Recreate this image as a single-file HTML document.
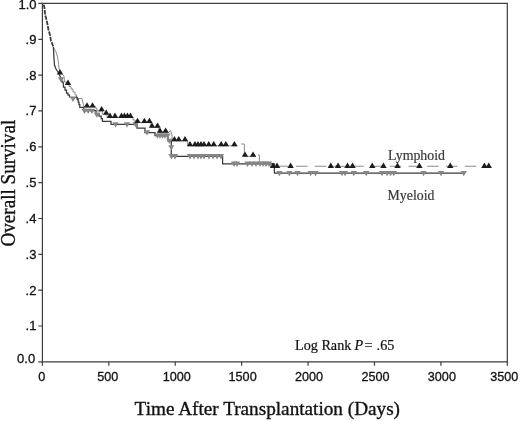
<!DOCTYPE html><html><head><meta charset="utf-8"><style>html,body{margin:0;padding:0;background:#fff;}svg{display:block;will-change:transform;}text{font-family:"Liberation Sans",sans-serif;}.t{stroke:#111;stroke-width:0.3px;}.s{font-family:"Liberation Serif",serif;}.b{stroke:#111;stroke-width:0.35px;}.c{stroke:#111;stroke-width:0.2px;}</style></head><body>
<svg width="520" height="421" viewBox="0 0 520 421">
<rect width="520" height="421" fill="#fff"/>
<polyline fill="none" stroke="#8c8c8c" stroke-width="1.0"  points="53.40,47.00 56.00,52.00 57.50,57.00 58.50,63.00 59.00,68.00 60.00,71.00 62.00,74.00 64.00,76.00 64.50,82.00 66.50,82.00 66.50,84.00 69.00,84.00 69.00,86.50 71.00,86.50 71.00,89.00 73.00,89.00 73.00,92.00 75.00,92.00 75.00,95.00 76.60,95.00 76.60,98.50 82.00,98.50 83.00,103.00 84.00,106.80 95.80,106.80 95.80,108.50 97.00,108.50 97.00,111.00 102.40,111.00 102.40,114.30 107.00,114.30 107.00,117.40 133.00,117.40 133.00,120.00 135.00,120.00 135.00,122.60 151.00,122.60 151.00,127.30 159.00,127.30 159.00,132.30 169.00,132.30 170.60,130.50 172.00,135.00 172.00,140.80 187.40,140.80 188.00,145.80 237.50,145.80"/>
<polyline fill="none" stroke="#8c8c8c" stroke-width="1.0"  points="241.00,144.00 244.40,144.00 244.40,156.30 256.00,156.30"/>
<polyline fill="none" stroke="#8c8c8c" stroke-width="1.0"  points="258.00,155.00 259.40,155.00 259.40,162.80 270.00,162.80 270.00,166.20 288.00,166.20"/>
<path fill="none" stroke="#8c8c8c" stroke-width="1.1" stroke-dasharray="11.5 7.25" d="M296 166.2H489"/>
<polyline fill="none" stroke="#3a3a3a" stroke-width="1.25"  points="53.40,47.00 53.80,56.00 54.50,65.00 56.00,69.00 58.00,72.00 60.00,76.00 62.00,80.00 62.00,82.00 63.20,82.00 63.50,87.00 65.00,87.00 65.00,90.00 66.50,90.00 66.50,93.00 68.00,93.00 68.00,95.00 69.50,95.00 69.50,97.00 77.30,97.30 77.30,99.50 78.20,99.50 78.20,102.00 79.00,102.00 79.00,104.50 79.80,104.50 79.80,107.40 83.60,107.40 83.60,110.70 96.00,110.70 96.00,113.50 99.00,113.50 99.00,116.00 101.20,116.00 101.20,118.50 102.40,118.50 102.40,121.40 111.00,121.40 111.00,124.40 137.00,124.40 137.00,128.00 145.00,128.00 145.00,132.50 155.00,132.50 155.00,135.60 168.00,135.60 168.00,141.00 171.30,141.00 171.30,156.30 222.60,156.30 222.60,163.80 274.40,163.80 274.40,173.10 463.75,173.10"/>
<path fill="#868686" d="M57.90 77.30L64.10 77.30L61.00 82.60Z"/>
<path fill="#868686" d="M69.90 96.80L76.10 96.80L73.00 102.10Z"/>
<path fill="#868686" d="M81.40 108.70L87.60 108.70L84.50 114.00Z"/>
<path fill="#868686" d="M85.10 108.70L91.30 108.70L88.20 114.00Z"/>
<path fill="#868686" d="M88.90 108.70L95.10 108.70L92.00 114.00Z"/>
<path fill="#868686" d="M93.70 112.40L99.90 112.40L96.80 117.70Z"/>
<path fill="#868686" d="M112.50 122.20L118.70 122.20L115.60 127.50Z"/>
<path fill="#868686" d="M123.90 122.20L130.10 122.20L127.00 127.50Z"/>
<path fill="#868686" d="M132.50 122.20L138.70 122.20L135.60 127.50Z"/>
<path fill="#868686" d="M143.90 130.30L150.10 130.30L147.00 135.60Z"/>
<path fill="#868686" d="M154.40 133.40L160.60 133.40L157.50 138.70Z"/>
<path fill="#868686" d="M156.90 133.40L163.10 133.40L160.00 138.70Z"/>
<path fill="#868686" d="M159.40 133.40L165.60 133.40L162.50 138.70Z"/>
<path fill="#868686" d="M161.90 133.40L168.10 133.40L165.00 138.70Z"/>
<path fill="#868686" d="M164.40 133.40L170.60 133.40L167.50 138.70Z"/>
<path fill="#868686" d="M166.30 138.80L172.50 138.80L169.40 144.10Z"/>
<path fill="#868686" d="M168.20 145.30L174.40 145.30L171.30 150.60Z"/>
<path fill="#868686" d="M168.40 154.10L174.60 154.10L171.50 159.40Z"/>
<path fill="#868686" d="M171.90 154.10L178.10 154.10L175.00 159.40Z"/>
<path fill="#868686" d="M186.90 154.10L193.10 154.10L190.00 159.40Z"/>
<path fill="#868686" d="M190.90 154.10L197.10 154.10L194.00 159.40Z"/>
<path fill="#868686" d="M194.90 154.10L201.10 154.10L198.00 159.40Z"/>
<path fill="#868686" d="M197.90 154.10L204.10 154.10L201.00 159.40Z"/>
<path fill="#868686" d="M200.90 154.10L207.10 154.10L204.00 159.40Z"/>
<path fill="#868686" d="M205.90 154.10L212.10 154.10L209.00 159.40Z"/>
<path fill="#868686" d="M209.90 154.10L216.10 154.10L213.00 159.40Z"/>
<path fill="#868686" d="M213.90 154.10L220.10 154.10L217.00 159.40Z"/>
<path fill="#868686" d="M217.90 154.10L224.10 154.10L221.00 159.40Z"/>
<path fill="#868686" d="M230.90 161.60L237.10 161.60L234.00 166.90Z"/>
<path fill="#868686" d="M233.90 161.60L240.10 161.60L237.00 166.90Z"/>
<path fill="#868686" d="M244.40 161.60L250.60 161.60L247.50 166.90Z"/>
<path fill="#868686" d="M248.90 161.60L255.10 161.60L252.00 166.90Z"/>
<path fill="#868686" d="M252.90 161.60L259.10 161.60L256.00 166.90Z"/>
<path fill="#868686" d="M256.90 161.60L263.10 161.60L260.00 166.90Z"/>
<path fill="#868686" d="M259.90 161.60L266.10 161.60L263.00 166.90Z"/>
<path fill="#868686" d="M262.90 161.60L269.10 161.60L266.00 166.90Z"/>
<path fill="#868686" d="M265.90 161.60L272.10 161.60L269.00 166.90Z"/>
<path fill="#868686" d="M276.30 170.90L282.50 170.90L279.40 176.20Z"/>
<path fill="#868686" d="M286.30 170.90L292.50 170.90L289.40 176.20Z"/>
<path fill="#868686" d="M294.40 170.90L300.60 170.90L297.50 176.20Z"/>
<path fill="#868686" d="M307.50 170.90L313.70 170.90L310.60 176.20Z"/>
<path fill="#868686" d="M312.50 170.90L318.70 170.90L315.60 176.20Z"/>
<path fill="#868686" d="M338.90 170.90L345.10 170.90L342.00 176.20Z"/>
<path fill="#868686" d="M341.90 170.90L348.10 170.90L345.00 176.20Z"/>
<path fill="#868686" d="M350.65 170.90L356.85 170.90L353.75 176.20Z"/>
<path fill="#868686" d="M363.15 170.90L369.35 170.90L366.25 176.20Z"/>
<path fill="#868686" d="M378.90 170.90L385.10 170.90L382.00 176.20Z"/>
<path fill="#868686" d="M383.90 170.90L390.10 170.90L387.00 176.20Z"/>
<path fill="#868686" d="M387.50 170.90L393.70 170.90L390.60 176.20Z"/>
<path fill="#868686" d="M390.65 170.90L396.85 170.90L393.75 176.20Z"/>
<path fill="#868686" d="M420.40 170.90L426.60 170.90L423.50 176.20Z"/>
<path fill="#868686" d="M437.90 170.90L444.10 170.90L441.00 176.20Z"/>
<path fill="#868686" d="M460.65 170.90L466.85 170.90L463.75 176.20Z"/>
<polyline fill="none" stroke="#3a3a3a" stroke-width="1.8" stroke-dasharray="4.5 1" points="43.70,4.60 44.30,7.00 45.20,15.00 47.00,22.00 48.50,30.00 50.00,35.00 51.00,41.00 52.00,43.00 53.40,47.00"/>
<path fill="#1c1c1c" d="M60.00 69.10L63.20 74.40L56.80 74.40Z"/>
<path fill="#1c1c1c" d="M68.00 79.60L71.20 84.90L64.80 84.90Z"/>
<path fill="#1c1c1c" d="M87.00 102.20L90.20 107.50L83.80 107.50Z"/>
<path fill="#1c1c1c" d="M92.50 102.20L95.70 107.50L89.30 107.50Z"/>
<path fill="#1c1c1c" d="M101.60 105.90L104.80 111.20L98.40 111.20Z"/>
<path fill="#1c1c1c" d="M106.20 109.40L109.40 114.70L103.00 114.70Z"/>
<path fill="#1c1c1c" d="M110.00 112.60L113.20 117.90L106.80 117.90Z"/>
<path fill="#1c1c1c" d="M115.00 112.60L118.20 117.90L111.80 117.90Z"/>
<path fill="#1c1c1c" d="M121.50 112.60L124.70 117.90L118.30 117.90Z"/>
<path fill="#1c1c1c" d="M124.50 112.60L127.70 117.90L121.30 117.90Z"/>
<path fill="#1c1c1c" d="M127.50 112.60L130.70 117.90L124.30 117.90Z"/>
<path fill="#1c1c1c" d="M130.50 112.60L133.70 117.90L127.30 117.90Z"/>
<path fill="#1c1c1c" d="M137.50 117.80L140.70 123.10L134.30 123.10Z"/>
<path fill="#1c1c1c" d="M144.40 117.80L147.60 123.10L141.20 123.10Z"/>
<path fill="#1c1c1c" d="M149.40 117.80L152.60 123.10L146.20 123.10Z"/>
<path fill="#1c1c1c" d="M152.00 122.40L155.20 127.70L148.80 127.70Z"/>
<path fill="#1c1c1c" d="M157.50 122.40L160.70 127.70L154.30 127.70Z"/>
<path fill="#1c1c1c" d="M160.00 127.40L163.20 132.70L156.80 132.70Z"/>
<path fill="#1c1c1c" d="M165.60 127.40L168.80 132.70L162.40 132.70Z"/>
<path fill="#1c1c1c" d="M174.40 135.90L177.60 141.20L171.20 141.20Z"/>
<path fill="#1c1c1c" d="M178.75 135.90L181.95 141.20L175.55 141.20Z"/>
<path fill="#1c1c1c" d="M185.00 135.90L188.20 141.20L181.80 141.20Z"/>
<path fill="#1c1c1c" d="M190.00 140.90L193.20 146.20L186.80 146.20Z"/>
<path fill="#1c1c1c" d="M195.00 140.90L198.20 146.20L191.80 146.20Z"/>
<path fill="#1c1c1c" d="M198.00 140.90L201.20 146.20L194.80 146.20Z"/>
<path fill="#1c1c1c" d="M201.00 140.90L204.20 146.20L197.80 146.20Z"/>
<path fill="#1c1c1c" d="M204.00 140.90L207.20 146.20L200.80 146.20Z"/>
<path fill="#1c1c1c" d="M208.75 140.90L211.95 146.20L205.55 146.20Z"/>
<path fill="#1c1c1c" d="M213.75 140.90L216.95 146.20L210.55 146.20Z"/>
<path fill="#1c1c1c" d="M221.20 140.90L224.40 146.20L218.00 146.20Z"/>
<path fill="#1c1c1c" d="M225.80 140.90L229.00 146.20L222.60 146.20Z"/>
<path fill="#1c1c1c" d="M234.40 140.90L237.60 146.20L231.20 146.20Z"/>
<path fill="#1c1c1c" d="M245.00 151.40L248.20 156.70L241.80 156.70Z"/>
<path fill="#1c1c1c" d="M253.00 151.40L256.20 156.70L249.80 156.70Z"/>
<path fill="#1c1c1c" d="M273.00 162.60L276.20 167.90L269.80 167.90Z"/>
<path fill="#1c1c1c" d="M277.00 162.60L280.20 167.90L273.80 167.90Z"/>
<path fill="#1c1c1c" d="M290.60 162.60L293.80 167.90L287.40 167.90Z"/>
<path fill="#1c1c1c" d="M330.80 162.60L334.00 167.90L327.60 167.90Z"/>
<path fill="#1c1c1c" d="M338.00 162.60L341.20 167.90L334.80 167.90Z"/>
<path fill="#1c1c1c" d="M347.50 162.60L350.70 167.90L344.30 167.90Z"/>
<path fill="#1c1c1c" d="M352.50 162.60L355.70 167.90L349.30 167.90Z"/>
<path fill="#1c1c1c" d="M372.25 162.60L375.45 167.90L369.05 167.90Z"/>
<path fill="#1c1c1c" d="M383.50 162.60L386.70 167.90L380.30 167.90Z"/>
<path fill="#1c1c1c" d="M397.50 162.60L400.70 167.90L394.30 167.90Z"/>
<path fill="#1c1c1c" d="M419.40 162.60L422.60 167.90L416.20 167.90Z"/>
<path fill="#1c1c1c" d="M450.25 162.60L453.45 167.90L447.05 167.90Z"/>
<path fill="#1c1c1c" d="M484.40 162.60L487.60 167.90L481.20 167.90Z"/>
<path fill="#1c1c1c" d="M488.75 162.60L491.95 167.90L485.55 167.90Z"/>
<path fill="none" stroke="#3e3e3e" stroke-width="1.2" d="M42.40 3.45H507.30V361.85H42.40Z"/>
<path fill="none" stroke="#3e3e3e" stroke-width="1.2" d="M38.30 3.45H42.40M38.30 39.29H42.40M38.30 75.13H42.40M38.30 110.97H42.40M38.30 146.81H42.40M38.30 182.65H42.40M38.30 218.49H42.40M38.30 254.33H42.40M38.30 290.17H42.40M38.30 326.01H42.40M38.30 361.85H42.40M42.40 361.85V365.75M108.81 361.85V365.75M175.23 361.85V365.75M241.64 361.85V365.75M308.06 361.85V365.75M374.47 361.85V365.75M440.89 361.85V365.75M507.30 361.85V365.75"/>
<text class="t" x="36.60" y="9.30" font-size="13" text-anchor="end" fill="#111">1.0</text>
<text class="t" x="36.90" y="43.69" font-size="13" letter-spacing="0.3" text-anchor="end" fill="#111">.9</text>
<text class="t" x="36.90" y="79.53" font-size="13" letter-spacing="0.3" text-anchor="end" fill="#111">.8</text>
<text class="t" x="36.90" y="115.37" font-size="13" letter-spacing="0.3" text-anchor="end" fill="#111">.7</text>
<text class="t" x="36.90" y="151.21" font-size="13" letter-spacing="0.3" text-anchor="end" fill="#111">.6</text>
<text class="t" x="36.90" y="187.05" font-size="13" letter-spacing="0.3" text-anchor="end" fill="#111">.5</text>
<text class="t" x="36.90" y="222.89" font-size="13" letter-spacing="0.3" text-anchor="end" fill="#111">.4</text>
<text class="t" x="36.90" y="258.73" font-size="13" letter-spacing="0.3" text-anchor="end" fill="#111">.3</text>
<text class="t" x="36.90" y="294.57" font-size="13" letter-spacing="0.3" text-anchor="end" fill="#111">.2</text>
<text class="t" x="36.90" y="330.41" font-size="13" letter-spacing="0.3" text-anchor="end" fill="#111">.1</text>
<text class="t" x="35.20" y="362.90" font-size="13" text-anchor="end" fill="#111">0.0</text>
<text class="t" x="41.80" y="381.3" font-size="12.65" text-anchor="middle" fill="#111">0</text>
<text class="t" x="107.81" y="381.3" font-size="12.65" text-anchor="middle" fill="#111">500</text>
<text class="t" x="176.83" y="381.3" font-size="12.65" text-anchor="middle" fill="#111">1000</text>
<text class="t" x="242.64" y="381.3" font-size="12.65" text-anchor="middle" fill="#111">1500</text>
<text class="t" x="309.06" y="381.3" font-size="12.65" text-anchor="middle" fill="#111">2000</text>
<text class="t" x="375.47" y="381.3" font-size="12.65" text-anchor="middle" fill="#111">2500</text>
<text class="t" x="441.89" y="381.3" font-size="12.65" text-anchor="middle" fill="#111">3000</text>
<text class="t" x="504.30" y="381.3" font-size="12.65" text-anchor="middle" fill="#111">3500</text>
<text class="s b" x="134.6" y="415" font-size="19.8" textLength="265.4" lengthAdjust="spacingAndGlyphs" fill="#111">Time After Transplantation (Days)</text>
<text class="s b" transform="translate(15.3 246.5) rotate(-90)" font-size="20.4" textLength="126.7" lengthAdjust="spacingAndGlyphs" fill="#111">Overall Survival</text>
<text class="s" x="388" y="160" font-size="14" textLength="57" lengthAdjust="spacingAndGlyphs" fill="#3a3a3a" stroke="#3a3a3a" stroke-width="0.2">Lymphoid</text>
<text class="s" x="387.6" y="199.7" font-size="14" textLength="46.8" lengthAdjust="spacingAndGlyphs" fill="#3a3a3a" stroke="#3a3a3a" stroke-width="0.2">Myeloid</text>
<g font-size="14.2" fill="#111"><text class="s c" x="295" y="350.4">Log Rank</text><text class="s c" x="354.4" y="350.4" font-style="italic">P</text><text class="s c" x="364.4" y="350.4">=</text><text class="s c" x="376.6" y="350.4">.65</text></g>
</svg></body></html>
